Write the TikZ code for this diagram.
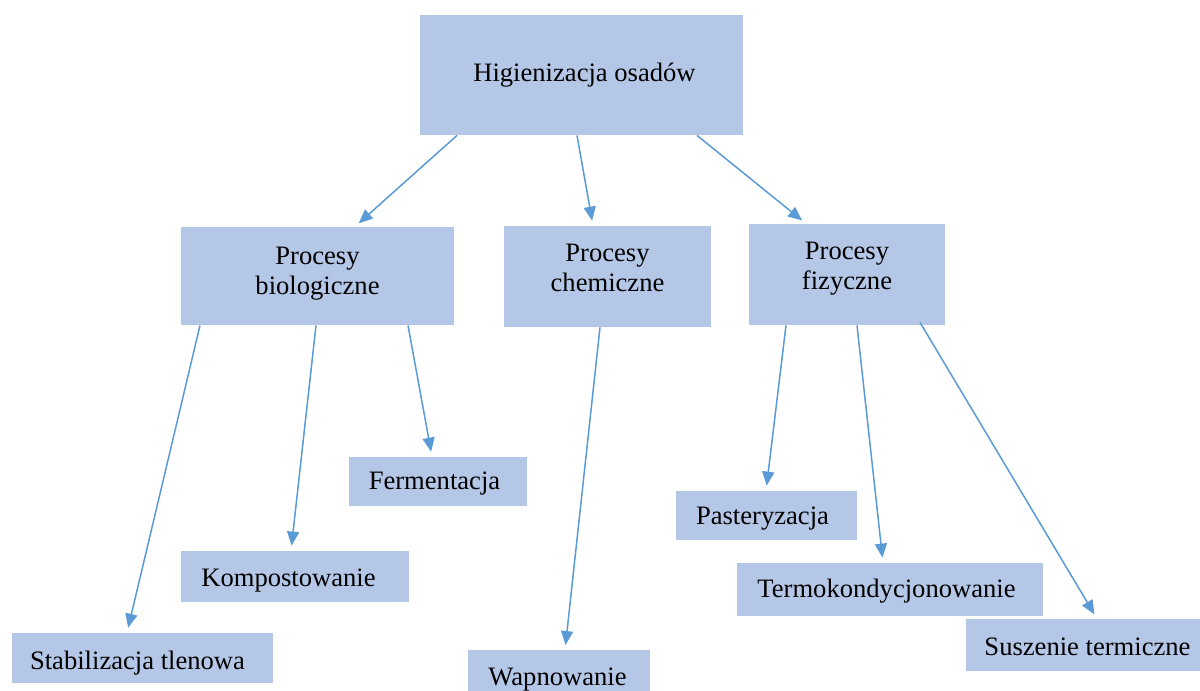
\documentclass[tikz,border=0pt]{standalone}
\usepackage{fontspec}
\setmainfont{Liberation Serif}
\usetikzlibrary{calc,arrows.meta}
\definecolor{boxblue}{HTML}{B4C7E7}
\definecolor{arrowblue}{HTML}{5B9BD5}
\def\boxtext(#1,#2)#3{\raisebox{#2}[\height][\depth]{\hspace*{#1}#3\hspace*{-#1}}}
\tikzset{
	box/.style={fill=boxblue, inner sep=0pt, font=\fontsize{13.3}{15}\selectfont},
	arr/.style={draw=arrowblue, line width=0.75pt, -{Triangle[length=7pt,width=6pt]}, shorten >=2.5pt}
}

\begin{document}
\begin{tikzpicture}[x=0.5pt, y=-0.5pt]
		%%%%% START %%%%%
		
		\clip (0, 0) rectangle (1200, 691);
		\fill[white] (0, 0) rectangle (1200, 691);
		
		\node[box, minimum width=161.5pt, minimum height=60pt] (hig) at (581.5, 75) {\boxtext(1.5pt,0pt){Higienizacja osadów}};
		
		\node[box, minimum width=136.5pt, minimum height=49pt] (bio) at (317.5, 276) {\boxtext(0pt,1.25pt){\begin{tabular}{@{}c@{}}Procesy\\biologiczne\end{tabular}}};
		\node[box, minimum width=103.5pt, minimum height=50.5pt] (chem) at (607.5, 276.5) {\boxtext(0pt,3.25pt){\begin{tabular}{@{}c@{}}Procesy\\chemiczne\end{tabular}}};
		\node[box, minimum width=98pt, minimum height=50.5pt] (fiz) at (847, 274.5) {\boxtext(0pt,3pt){\begin{tabular}{@{}c@{}}Procesy\\fizyczne\end{tabular}}};
		
		\node[box, minimum width=89pt, minimum height=24.5pt] (ferm) at (438, 481.5) {\boxtext(-1.75pt,-1pt){Fermentacja}};
		\node[box, minimum width=114pt, minimum height=25.5pt] (komp) at (295, 576.5) {\boxtext(-3.25pt,-2pt){Kompostowanie}};
		\node[box, minimum width=130.5pt, minimum height=25pt] (stab) at (142.5, 658) {\boxtext(-2.5pt,-2.5pt){Stabilizacja tlenowa}};
		\node[box, minimum width=91pt, minimum height=25pt, anchor=north] (wap) at (559, 650) {\boxtext(-0.75pt,-2pt){Wapnowanie}};
		\node[box, minimum width=90.5pt, minimum height=24.5pt] (past) at (766.5, 515.5) {\boxtext(-2pt,-1.5pt){Pasteryzacja}};
		\node[box, minimum width=153pt, minimum height=26.5pt] (term) at (890, 589.5) {\boxtext(-1.75pt,-1pt){Termokondycjonowanie}};
		\node[box, minimum width=117pt, minimum height=26pt] (susz) at (1083, 645) {\boxtext(2.25pt,-1pt){Suszenie termiczne}};
		
		\draw[arr] ($(hig.south)+(-124.5, 0)$) -- ($(bio.north)+(37.5, 0)$);
		\draw[arr] ($(hig.south)+(-4.5, 0)$) -- ($(chem.north)+(-14.5, 0)$);
		\draw[arr] ($(hig.south)+(115.5, 0)$) -- ($(fiz.north)+(-41, 0)$);
		
		\draw[arr] ($(bio.south)+(-117.5, 0)$) -- ($(stab.north)+(-15.5, 0)$);
		\draw[arr] ($(bio.south)+(-1.5, 0)$) -- ($(komp.north)+(-4, 0)$);
		\draw[arr] ($(bio.south)+(90.5, 0)$) -- ($(ferm.north)+(-6, 0)$);
		
		\draw[arr] ($(chem.south)+(-7.5, 0)$) -- ($(wap.north)+(6, 0)$);
		
		\draw[arr] ($(fiz.south)+(-61, 0)$) -- ($(past.north)+(-0.5, 0)$);
		\draw[arr] ($(fiz.south)+(10, 0)$) -- ($(term.north)+(-7, 0)$);
		\draw[arr] ($(fiz.south)+(73, -3)$) -- ($(susz.north)+(14, 0)$);
		
		%%%%% END %%%%%
	\end{tikzpicture}
\end{document}
